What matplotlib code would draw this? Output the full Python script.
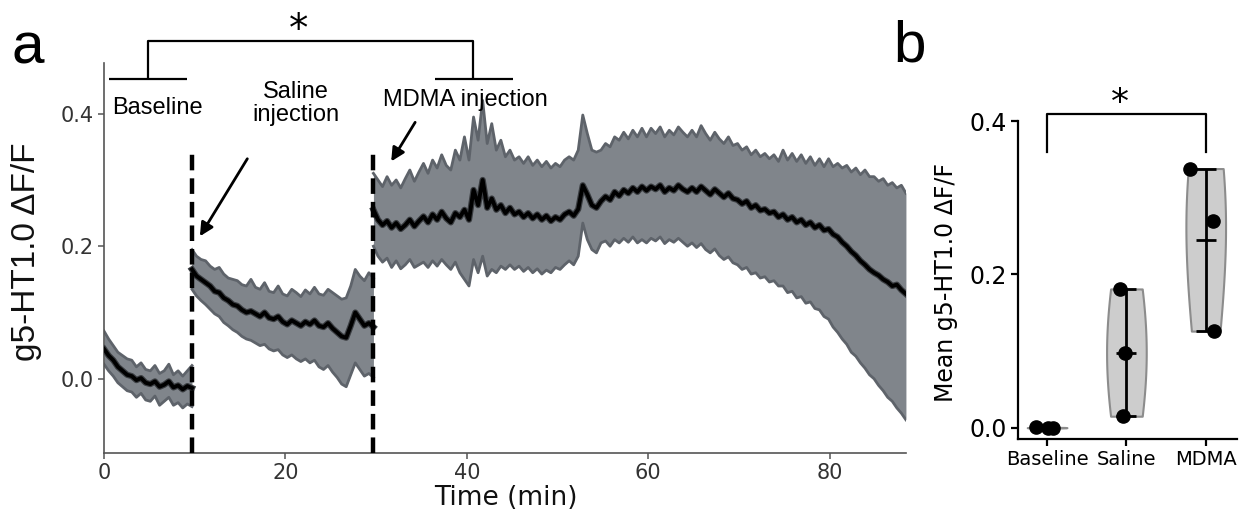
import numpy as np
import matplotlib
matplotlib.use('Agg')
import matplotlib.pyplot as plt

# ---------------- Panel a data (mean and SEM band) ----------------
seg_bounds = [(0.0, 9.7), (9.7, 29.7), (29.7, 88.4)]

base_mean = [0.045, 0.035, 0.028, 0.018, 0.012, 0.006, 0.004, -0.002, 0.001, -0.006,
             -0.008, -0.004, -0.012, -0.009, -0.004, -0.013, -0.010, -0.016, -0.011, -0.014]
base_upper = [0.072, 0.060, 0.050, 0.040, 0.035, 0.030, 0.028, 0.018, 0.024, 0.014,
              0.012, 0.020, 0.008, 0.012, 0.022, 0.006, 0.012, 0.004, 0.012, 0.020]
base_lower = [0.022, 0.012, 0.004, -0.006, -0.012, -0.018, -0.020, -0.028, -0.022, -0.032,
              -0.034, -0.026, -0.040, -0.034, -0.028, -0.040, -0.036, -0.044, -0.038, -0.042]

sal_mean = [0.165, 0.155, 0.150, 0.145, 0.140, 0.132, 0.130, 0.122, 0.118, 0.112,
            0.110, 0.104, 0.100, 0.102, 0.098, 0.094, 0.100, 0.092, 0.090, 0.094,
            0.086, 0.082, 0.088, 0.084, 0.080, 0.086, 0.082, 0.088, 0.080, 0.078,
            0.084, 0.076, 0.070, 0.064, 0.062, 0.080, 0.100, 0.090, 0.080, 0.084, 0.078]
sal_upper = [0.195, 0.185, 0.180, 0.178, 0.170, 0.165, 0.168, 0.158, 0.152, 0.150,
             0.148, 0.142, 0.140, 0.150, 0.138, 0.135, 0.145, 0.132, 0.130, 0.140,
             0.128, 0.125, 0.135, 0.130, 0.124, 0.134, 0.128, 0.138, 0.128, 0.126,
             0.135, 0.130, 0.125, 0.120, 0.122, 0.140, 0.165, 0.155, 0.148, 0.160, 0.152]
sal_lower = [0.135, 0.125, 0.118, 0.112, 0.105, 0.098, 0.094, 0.085, 0.080, 0.074,
             0.070, 0.064, 0.060, 0.058, 0.054, 0.050, 0.052, 0.045, 0.042, 0.044,
             0.036, 0.032, 0.036, 0.030, 0.026, 0.030, 0.024, 0.028, 0.018, 0.014,
             0.020, 0.010, 0.002, -0.008, -0.012, 0.006, 0.024, 0.014, 0.004, 0.008, 0.002]

mdma_mean = [0.255, 0.240, 0.232, 0.238, 0.228, 0.235, 0.226, 0.232, 0.240, 0.230,
             0.238, 0.245, 0.236, 0.248, 0.240, 0.252, 0.242, 0.236, 0.250, 0.244,
             0.255, 0.240, 0.285, 0.262, 0.300, 0.258, 0.272, 0.255, 0.262, 0.250,
             0.258, 0.248, 0.252, 0.244, 0.250, 0.242, 0.248, 0.240, 0.246, 0.238,
             0.244, 0.240, 0.248, 0.252, 0.246, 0.256, 0.292, 0.278, 0.262, 0.258,
             0.268, 0.275, 0.270, 0.282, 0.276, 0.285, 0.280, 0.288, 0.282, 0.290,
             0.284, 0.290, 0.286, 0.292, 0.282, 0.288, 0.284, 0.292, 0.286, 0.282,
             0.288, 0.282, 0.290, 0.284, 0.278, 0.286, 0.280, 0.274, 0.280, 0.272,
             0.270, 0.264, 0.268, 0.258, 0.262, 0.254, 0.256, 0.250, 0.252, 0.244,
             0.248, 0.240, 0.244, 0.236, 0.240, 0.232, 0.236, 0.228, 0.232, 0.224,
             0.226, 0.218, 0.214, 0.206, 0.200, 0.192, 0.186, 0.178, 0.172, 0.165,
             0.160, 0.156, 0.150, 0.146, 0.140, 0.142, 0.134, 0.128]
mdma_upper = [0.310, 0.300, 0.290, 0.305, 0.292, 0.300, 0.288, 0.302, 0.315, 0.298,
              0.312, 0.325, 0.310, 0.330, 0.318, 0.338, 0.322, 0.315, 0.345, 0.330,
              0.365, 0.330, 0.395, 0.360, 0.420, 0.355, 0.385, 0.345, 0.360, 0.335,
              0.345, 0.330, 0.335, 0.325, 0.335, 0.322, 0.330, 0.320, 0.328, 0.318,
              0.325, 0.320, 0.330, 0.335, 0.330, 0.345, 0.398, 0.370, 0.345, 0.342,
              0.345, 0.355, 0.350, 0.365, 0.360, 0.372, 0.362, 0.375, 0.365, 0.378,
              0.365, 0.378, 0.370, 0.380, 0.365, 0.375, 0.368, 0.380, 0.372, 0.365,
              0.375, 0.365, 0.382, 0.370, 0.360, 0.372, 0.362, 0.355, 0.365, 0.352,
              0.355, 0.345, 0.350, 0.338, 0.345, 0.335, 0.340, 0.332, 0.338, 0.328,
              0.345, 0.330, 0.340, 0.328, 0.338, 0.325, 0.335, 0.322, 0.332, 0.320,
              0.332, 0.320, 0.325, 0.318, 0.322, 0.312, 0.318, 0.308, 0.315, 0.305,
              0.305, 0.298, 0.302, 0.292, 0.296, 0.288, 0.292, 0.280]
mdma_lower = [0.200, 0.185, 0.176, 0.182, 0.168, 0.178, 0.166, 0.172, 0.180, 0.168,
              0.172, 0.176, 0.168, 0.178, 0.170, 0.180, 0.172, 0.165, 0.176, 0.160,
              0.150, 0.140, 0.180, 0.160, 0.185, 0.155, 0.165, 0.160, 0.170, 0.165,
              0.172, 0.165, 0.170, 0.162, 0.168, 0.160, 0.166, 0.158, 0.164, 0.160,
              0.168, 0.165, 0.172, 0.178, 0.172, 0.185, 0.235, 0.210, 0.195, 0.190,
              0.205, 0.208, 0.200, 0.210, 0.205, 0.212, 0.206, 0.214, 0.205, 0.210,
              0.205, 0.212, 0.208, 0.214, 0.204, 0.210, 0.206, 0.212, 0.206, 0.200,
              0.205, 0.198, 0.204, 0.195, 0.190, 0.196, 0.186, 0.180, 0.184, 0.175,
              0.172, 0.165, 0.168, 0.158, 0.160, 0.152, 0.154, 0.146, 0.148, 0.140,
              0.140, 0.130, 0.132, 0.122, 0.124, 0.114, 0.116, 0.106, 0.104, 0.094,
              0.090, 0.078, 0.070, 0.060, 0.052, 0.040, 0.034, 0.024, 0.016, 0.006,
              0.000, -0.010, -0.018, -0.028, -0.034, -0.044, -0.052, -0.062]

segments = [(base_mean, base_upper, base_lower),
            (sal_mean, sal_upper, sal_lower),
            (mdma_mean, mdma_upper, mdma_lower)]

injection_times = [9.7, 29.7]

# ---------------- Panel b data ----------------
b_categories = ['Baseline', 'Saline', 'MDMA']
b_baseline = [0.0004, -0.0003, 0.0001]
b_saline = [0.181, 0.098, 0.015]
b_mdma = [0.338, 0.270, 0.126]
b_jitter = [[-0.14, 0.016, 0.08], [-0.075, -0.013, -0.04], [-0.2, 0.09, 0.1]]

# ---------------- Figure ----------------
fig = plt.figure(figsize=(12.41, 5.15), dpi=100)
band_col = '#80858b'
edge_col = '#5e636a'

axa = fig.add_axes([0.0838, 0.1204, 0.6462, 0.7579])
for (start, end), (m, u, l) in zip(seg_bounds, segments):
    t = np.linspace(start, end, len(m))
    axa.fill_between(t, l, u, color=band_col, lw=0, zorder=1)
    axa.plot(t, u, color=edge_col, lw=2.0, zorder=2)
    axa.plot(t, l, color=edge_col, lw=2.0, zorder=2)
    axa.plot(t, m, color='#3a3d41', lw=4.5, zorder=3)
    axa.plot(t, m, color='black', lw=2.8, zorder=3)

ymin_a, ymax_a = -0.112, 0.477
for ti in injection_times:
    axa.plot([ti, ti], [ymin_a, 0.347], color='black', lw=3.2, ls=(0, (3.5, 1.8)),
             zorder=5, clip_on=False)

axa.set_xlim(0, 88.4)
axa.set_ylim(ymin_a, ymax_a)
axa.set_xticks([0, 20, 40, 60, 80])
axa.set_yticks([0.0, 0.2, 0.4])
axa.set_yticklabels(['0.0', '0.2', '0.4'])
for s in ['top', 'right']:
    axa.spines[s].set_visible(False)
for s in ['left', 'bottom']:
    axa.spines[s].set_color('#555555')
    axa.spines[s].set_linewidth(1.2)
axa.tick_params(axis='both', colors='#555555', labelcolor='#333333', labelsize=15,
                length=4.5, width=1.1, pad=3)

fig.text(27 / 1241, 1 - 252 / 515, 'g5-HT1.0 ΔF/F', rotation=90, ha='center', va='center',
         fontsize=24, family='Liberation Sans', color='#111111')
fig.text(505.5 / 1241, 1 - 498 / 515, 'Time (min)', ha='center', va='center',
         fontsize=19, color='#111111')

# annotations
ann_font = dict(fontsize=17, family='Liberation Sans', color='black')
axa.text(0.9, 0.409, 'Baseline', ha='left', va='center', clip_on=False, **ann_font)
axa.text(21.2, 0.416, 'Saline\ninjection', ha='center', va='center', linespacing=1.05,
         clip_on=False, **ann_font)
axa.text(39.8, 0.42, 'MDMA injection', ha='center', va='center', clip_on=False, **ann_font)

axa.annotate('', xy=(10.57, 0.215), xytext=(15.8, 0.332),
             arrowprops=dict(arrowstyle='-|>', color='black', lw=2, mutation_scale=20,
                             shrinkA=0, shrinkB=0), annotation_clip=False)
axa.annotate('', xy=(31.66, 0.328), xytext=(34.3, 0.387),
             arrowprops=dict(arrowstyle='-|>', color='black', lw=2, mutation_scale=20,
                             shrinkA=0, shrinkB=0), annotation_clip=False)

# significance bracket (panel a)
bk = dict(color='black', lw=1.6, clip_on=False, solid_capstyle='butt')
axa.plot([0.5, 9.1], [0.452, 0.452], **bk)
axa.plot([36.5, 45.1], [0.452, 0.452], **bk)
axa.plot([4.85, 4.85, 40.7, 40.7], [0.452, 0.509, 0.509, 0.452], **bk)
axa.text(21.4, 0.526, '*', ha='center', va='center', fontsize=28, clip_on=False)

fig.text(12 / 1241, 1 - 63 / 515, 'a', fontsize=42, family='Liberation Sans', va='baseline')
fig.text(893 / 1241, 1 - 62 / 515, 'b', fontsize=42, family='Liberation Sans', va='baseline')

# ---------------- Panel b ----------------
axb = fig.add_axes([0.8201, 0.1476, 0.1764, 0.6174])
data_b = [b_baseline, b_saline, b_mdma]
vp = axb.violinplot(data_b, positions=[0, 1, 2], widths=0.5, showmeans=True,
                    showextrema=True, bw_method=1.1)
for body in vp['bodies']:
    body.set_facecolor('#cdcdcd')
    body.set_edgecolor('#8c8c8c')
    body.set_alpha(1)
    body.set_linewidth(1.5)
for key in ['cbars', 'cmins', 'cmaxes', 'cmeans']:
    vp[key].set_color('black')
    vp[key].set_linewidth(2)
for i, (vals, offs) in enumerate(zip(data_b, b_jitter)):
    axb.plot(np.array(offs) + i, vals, 'o', color='black', ms=9.5, zorder=5, clip_on=False)

axb.set_xlim(-0.37, 2.39)
axb.set_ylim(-0.0147, 0.4)
axb.set_xticks([0, 1, 2])
axb.set_xticklabels(b_categories)
axb.set_yticks([0.0, 0.2, 0.4])
axb.set_yticklabels(['0.0', '0.2', '0.4'])
for s in ['top', 'right']:
    axb.spines[s].set_visible(False)
for s in ['left', 'bottom']:
    axb.spines[s].set_linewidth(1.6)
axb.tick_params(axis='y', labelsize=17, length=5, width=1.6, pad=3)
axb.tick_params(axis='x', labelsize=14, length=5, width=1.6, pad=3)

fig.text(946 / 1241, 1 - 283 / 515, 'Mean g5-HT1.0 ΔF/F', rotation=90, ha='center',
         va='center', fontsize=17)

axb.plot([0, 0, 2, 2], [0.359, 0.409, 0.409, 0.359], color='black', lw=1.6, clip_on=False)
axb.text(0.92, 0.424, '*', ha='center', va='center', fontsize=26, clip_on=False)

fig.savefig('out.png', dpi=100)
